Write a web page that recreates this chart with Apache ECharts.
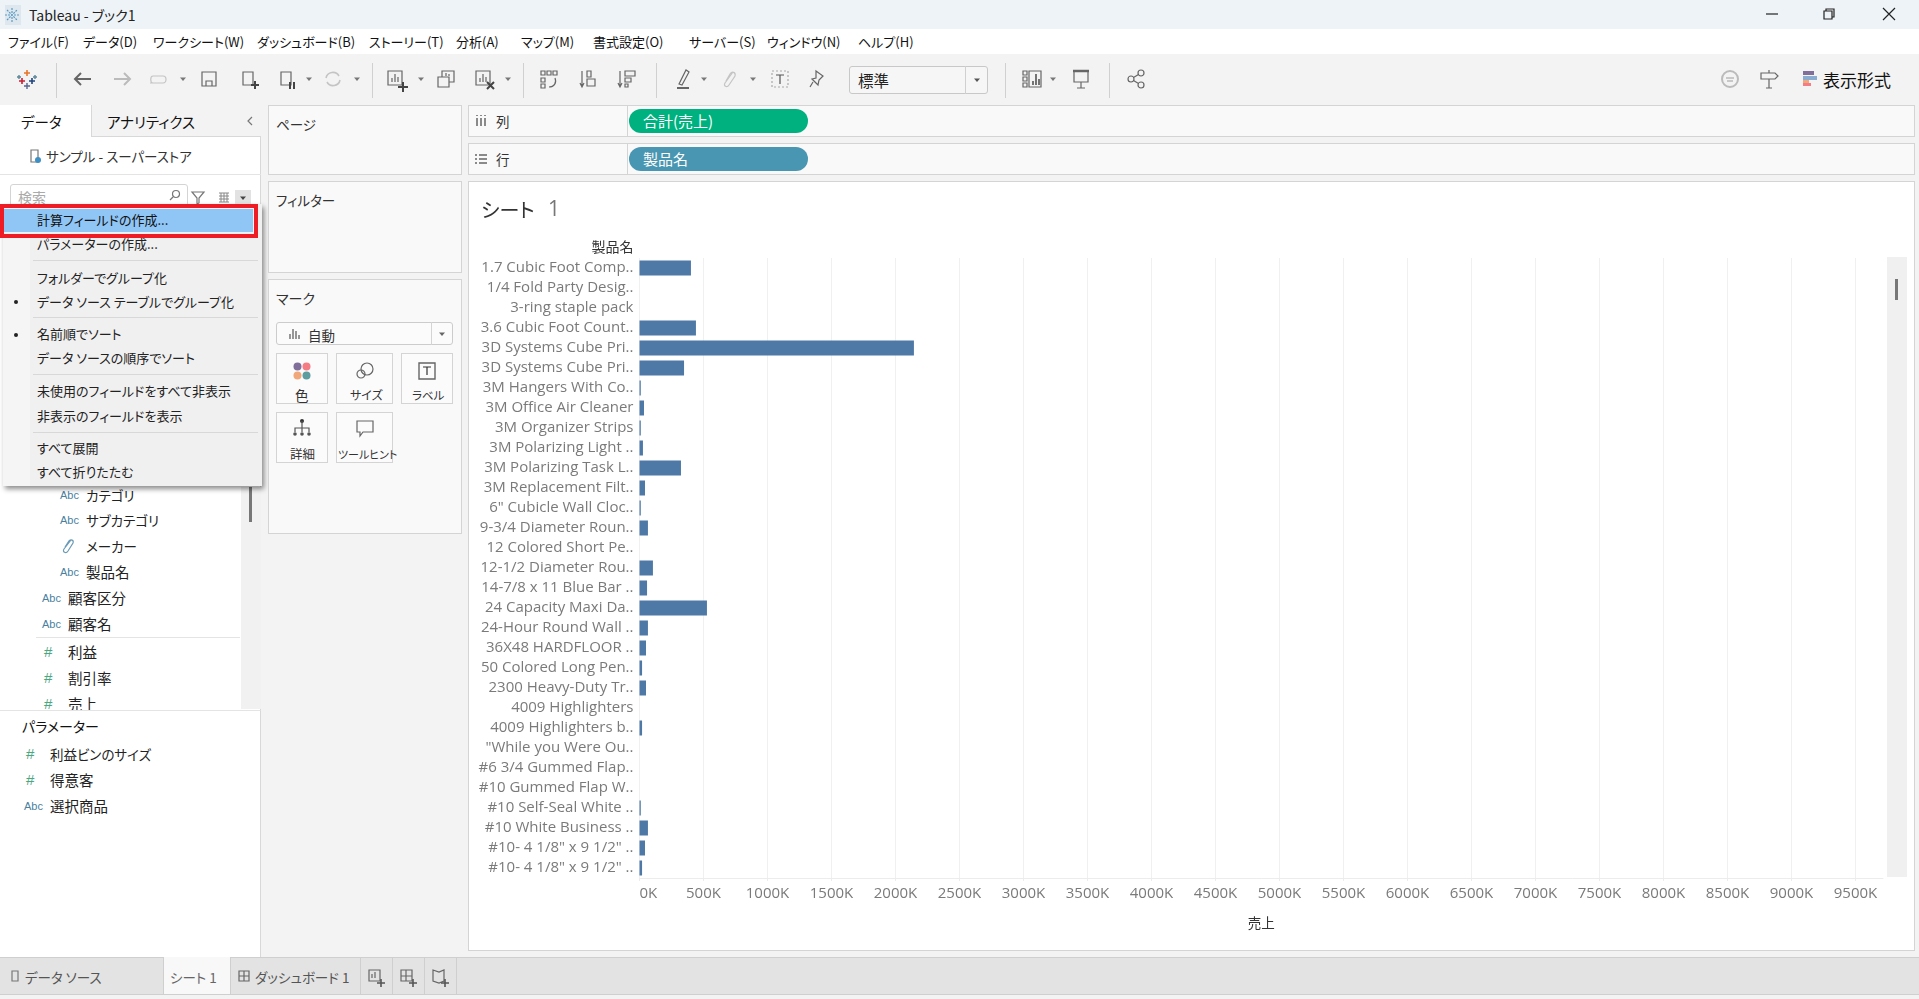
<!DOCTYPE html>
<html>
<head>
<meta charset="utf-8">
<title>Tableau - ブック1</title>
<script src="https://cdn.jsdelivr.net/npm/echarts@6/dist/echarts.min.js"></script>
<style>
html,body{margin:0;padding:0;width:1919px;height:999px;overflow:hidden;background:#f3f3f3;font-family:"Noto Sans CJK JP",sans-serif;font-feature-settings:"palt";}
.b{position:absolute;box-sizing:border-box;}
.t{position:absolute;white-space:nowrap;line-height:20px;height:20px;color:#222;}
svg{position:absolute;overflow:visible;}
#main{position:absolute;left:469px;top:182px;width:1444px;height:767px;}
</style>
</head>
<body>
<div id="ui"></div>
<div id="main"></div>
<div id="over"></div>
<script>
'use strict'

// 製品名 and 合計(売上)
var products = ["1.7 Cubic Foot Comp..","1/4 Fold Party Desig..","3-ring staple pack","3.6 Cubic Foot Count..","3D Systems Cube Pri..","3D Systems Cube Pri..","3M Hangers With Co..","3M Office Air Cleaner","3M Organizer Strips","3M Polarizing Light ..","3M Polarizing Task L..","3M Replacement Filt..","6\" Cubicle Wall Cloc..","9-3/4 Diameter Roun..","12 Colored Short Pe..","12-1/2 Diameter Rou..","14-7/8 x 11 Blue Bar ..","24 Capacity Maxi Da..","24-Hour Round Wall ..","36X48 HARDFLOOR ..","50 Colored Long Pen..","2300 Heavy-Duty Tr..","4009 Highlighters","4009 Highlighters b..","\"While you Were Ou..","#6 3/4 Gummed Flap..","#10 Gummed Flap W..","#10 Self-Seal White ..","#10 White Business ..","#10- 4 1/8\" x 9 1/2\" ..","#10- 4 1/8\" x 9 1/2\" .."];
var sales = [402000,0,0,441000,2144000,348000,10000,35000,10000,27000,324000,43000,10000,66000,0,105000,59000,527000,66000,51000,20000,51000,0,20000,0,0,0,10000,66000,43000,20000];
var salesTicks = [0,500000,1000000,1500000,2000000,2500000,3000000,3500000,4000000,4500000,5000000,5500000,6000000,6500000,7000000,7500000,8000000,8500000,9000000,9500000];

var menuBar = [["ファイル(F)",8],["データ(D)",83],["ワークシート(W)",153],["ダッシュボード(B)",257],["ストーリー(T)",369],["分析(A)",456],["マップ(M)",521],["書式設定(O)",593],["サーバー(S)",689],["ウィンドウ(N)",767],["ヘルプ(H)",858]];
var dropdownItems = [["パラメーターの作成...",244],["フォルダーでグループ化",278],["データ ソース テーブルでグループ化",302],["名前順でソート",334],["データ ソースの順序でソート",358],["未使用のフィールドをすべて非表示",391],["非表示のフィールドを表示",416],["すべて展開",448],["すべて折りたたむ",472]];
var dropdownSeps = [260,317,374,432];
var fieldItems = [["Abc","カテゴリ",60,86,495],["Abc","サブカテゴリ",60,86,520],["clip","メーカー",60,86,546],["Abc","製品名",60,86,572],["Abc","顧客区分",42,68,598],["Abc","顧客名",42,68,624],["#","利益",44,68,652],["#","割引率",44,68,678],["#","売上",44,68,704]];
var paramItems = [["#","利益ビンのサイズ",26,50,754],["#","得意客",26,50,780],["Abc","選択商品",24,50,806]];
var toolbarSeps = [56,372,523,656,1005,1109];
var toolbarCarets = [183,309,357,421,508,704,753,1053];

var ui = document.getElementById("ui");
var over = document.getElementById("over");

function box(x,y,w,h,css,parent){
    var d = document.createElement("div");
    d.className = "b";
    d.style.cssText = "left:"+x+"px;top:"+y+"px;width:"+w+"px;height:"+h+"px;"+(css||"");
    (parent||ui).appendChild(d);
    return d;
}
function text(x,y,s,size,color,parent,css){
    var d = document.createElement("div");
    d.className = "t";
    d.textContent = s;
    d.style.cssText = "left:"+x+"px;top:"+(y-10)+"px;font-size:"+size+"px;color:"+(color||"#222")+";"+(css||"");
    (parent||ui).appendChild(d);
    return d;
}
function icon(cx,cy,inner,parent){
    var wrap = document.createElement("div");
    wrap.innerHTML = "<svg width='24' height='24' viewBox='-12 -12 24 24' style='left:"+(cx-12)+"px;top:"+(cy-12)+"px' fill='none' stroke='#666' stroke-width='1.2'>"+inner+"</svg>";
    (parent||ui).appendChild(wrap.firstChild);
}
function caret(cx,cy,color,parent){
    icon(cx,cy,"<path d='M-3 -1.5H3L0 2Z' fill='"+(color||"#777")+"' stroke='none'/>",parent);
}
function fieldIcon(kind,x,y,parent){
    if(kind=="Abc"){
        text(x,y,"Abc",11,"#4a7f9f",parent,"font-family:'Liberation Sans'");
    }else if(kind=="#"){
        text(x,y,"#",15,"#4aa77f",parent,"font-family:'Liberation Sans'");
    }else{
        icon(x+8,y,"<path d='M3 -6L-4 3C-6 6 -2 8 0 5L5 -3C6 -6 3 -7 1 -5L-3 1' stroke='#6a9ab5'/>",parent);
    }
}
// katakana runs narrower than kanji in the reference font
function fieldSize(s){
    return /[ァ-ヶー]/.test(s) ? 13.5 : 14.5;
}

// window frame
box(0,0,1919,29,"background:#eef3f7");
box(5,5,16,20,"background:#dfe7ee");
icon(12,15,"<path d='M0 -7V7M-7 0H7M-5 -5L5 5M-5 5L5 -5' stroke='#5a9bc4' stroke-dasharray='2 1'/>");
text(29,15,"Tableau - ブック1",14,"#222");
box(0,29,1919,25,"background:#fff");
menuBar.forEach(function(m){ text(m[1],42,m[0],13,"#111"); });
icon(1772,14,"<path d='M-6 0H6' stroke='#222'/>");
icon(1829,14,"<path d='M-5 -3H3V5H-5ZM-3 -3V-5H5V3H3' stroke='#222'/>");
icon(1889,14,"<path d='M-6 -6L6 6M6 -6L-6 6' stroke='#222'/>");

// toolbar
box(0,54,1919,51,"background:#f3f3f3");
toolbarSeps.forEach(function(x){ box(x,63,1,35,"background:#d0d0d0"); });
toolbarCarets.forEach(function(x){ caret(x,79); });
icon(27,79,"<path d='M0 -9V-3M-3 -6H3' stroke='#e8762c' stroke-width='1.6'/><path d='M-8 -4V0M-10 -2H-6M8 -4V0M6 -2H10' stroke='#5b879b' stroke-width='1.4'/><path d='M-5 -1V5M-8 2H-2' stroke='#c72035' stroke-width='1.6'/><path d='M5 -1V5M2 2H8' stroke='#1f457e' stroke-width='1.6'/><path d='M0 4V10M-3 7H3' stroke='#5b6591' stroke-width='1.4'/>");
icon(83,79,"<path d='M8 0H-7M-2 -6L-8 0L-2 6' stroke-width='2'/>");
icon(122,79,"<path d='M-8 0H7M2 -6L8 0L2 6' stroke='#bbb' stroke-width='2'/>");
icon(159,79,"<path d='M-9 4H4C8 4 8 -3 4 -3H-6C-9 -3 -9 4 -6 4' stroke='#c4c4c4'/>");
icon(209,79,"<path d='M-7 -7H7V7H-7ZM-3 7V2H3V7'/>");
icon(248,79,"<path d='M-5 -7H5V6H-5Z'/><path d='M3 6H11M7 2V10' stroke='#444' stroke-width='2'/>");
icon(286,79,"<path d='M-5 -7H5V6H-5Z'/><path d='M4 3V10M8 3V10' stroke='#444' stroke-width='2'/>");
icon(333,79,"<path d='M-7 -1A7 7 0 0 1 6 -3M7 1A7 7 0 0 1 -6 3' stroke='#c4c4c4' stroke-width='1.6'/>");
icon(396,79,"<path d='M-8 -8H6V6H-8ZM-4 3V-1M-1 3V-5M2 3V-2'/><path d='M2 8H12M7 3V13' stroke='#444' stroke-width='2'/>");
icon(446,79,"<path d='M-8 -2H3V8H-8ZM-4 -2V-8H8V3H3M0 -3V-6M3 -3V-5'/>");
icon(484,79,"<path d='M-8 -8H6V6H-8ZM-4 3V-1M-1 3V-5M2 3V-2'/><path d='M3 3L10 10M10 3L3 10' stroke='#444' stroke-width='2'/>");
icon(549,79,"<path d='M-8 -8H-4V-4H-8ZM-2 -8H2V-4H-2ZM4 -8H8V-4H4ZM-8 -1H-4V3H-8ZM-8 5H-4V9H-8ZM6 -1C8 4 5 8 0 8'/>");
icon(589,79,"<path d='M-7 -8V7M-9 4L-7 8L-5 4M-2 -8H2V-2H-2ZM-2 0H6V7H-2Z'/>");
icon(627,79,"<path d='M-7 -8V7M-9 4L-7 8L-5 4M-2 -8H8V-3H-2ZM-2 -1H4V3H-2ZM-2 5H1V8H-2Z'/>");
icon(683,79,"<path d='M-4 5L3 -9L6 -7L-1 6Z'/><path d='M-6 9H6' stroke-width='2'/>");
icon(729,79,"<path d='M4 -7L-4 4C-6 7 -2 9 0 6L6 -3C7 -7 3 -8 1 -5L-3 2' stroke='#c4c4c4'/>");
icon(780,79,"<path d='M-8 -8H8V8H-8Z' stroke='#aaa' stroke-dasharray='2 2'/><path d='M-4 -4H4M0 -4V5' stroke='#555'/>");
icon(817,79,"<path d='M-1 -8L6 -3L2 1L1 6L-5 0L-1 -1ZM-4 3L-7 8'/>");
box(849,66,139,28,"background:#f6f6f6;border:1px solid #c8c8c8;border-radius:3px");
box(965,66,1,28,"background:#d0d0d0");
text(858,80,"標準",15.5,"#222");
caret(977,80,"#555");
icon(1032,79,"<path d='M-9 -8H-5V-4H-9ZM-9 -2H-5V2H-9ZM-9 4H-5V8H-9ZM-3 -8H9V8H-3Z'/><path d='M1 6V2M4 6V-5M7 6V0' stroke-width='1.8'/>");
icon(1081,79,"<path d='M-8 -8H8' stroke-width='2.5'/><path d='M-7 -8V3H7V-8M0 3V9M-4 9H4'/>");
icon(1136,79,"<circle cx='5' cy='-6' r='3'/><circle cx='-5' cy='0' r='3'/><circle cx='5' cy='6' r='3'/><path d='M2.5 -4.5L-2.5 -1.5M-2.5 1.5L2.5 4.5'/>");
icon(1730,79,"<circle r='8' stroke='#bbb' stroke-width='2'/><path d='M-4 -1H4M-3 2H3' stroke='#bbb' stroke-width='1.6'/>");
icon(1769,79,"<path d='M-8 -6H6L9 -3L6 0H-8ZM0 0V9M-3 9H3M0 -6V-9'/>");
box(1803,71,11,4,"background:#7f6f9a");
box(1803,76,14,4,"background:#8aacd0");
box(1803,80,6,3,"background:#f0a87a");
box(1803,83,8,3,"background:#f47c85");
text(1823,80,"表示形式",17,"#111");

// data pane
box(0,105,261,852,"background:#fff;border-right:1px solid #d8d8d8");
box(91,105,170,32,"background:#f3f3f3;border-left:1px solid #d8d8d8;border-bottom:1px solid #d8d8d8");
text(21,122,"データ",14.5,"#111");
text(107,122,"アナリティクス",14.5,"#111");
icon(250,121,"<path d='M2 -4L-2 0L2 4' stroke='#777'/>");
icon(35,156,"<path d='M-4 -6H3V6H-4Z' stroke='#777'/><circle cx='3' cy='4' r='3' fill='#3d8fc4' stroke='none'/>");
text(46,156,"サンプル - スーパーストア",13.5,"#333");
box(0,174,261,1,"background:#e4e4e4");
box(10,184,178,28,"background:#fff;border:1px solid #d4d4d4;border-radius:3px");
text(18,197,"検索",14,"#aaa");
icon(175,196,"<circle cx='1' cy='-2' r='3.5' stroke='#777'/><path d='M-2 1L-5 4' stroke='#777'/>");
icon(198,197,"<path d='M-6 -5H6L1 1V6L-1 7V1Z' stroke='#777'/>");
icon(224,197,"<path d='M-5 -4H5M-5 -1H5M-5 2H5M-5 5H5M-3 -4V5M0 -4V5M3 -4V5' stroke='#888' stroke-width='1'/>");
box(235,190,16,18,"background:#e2e2e2");
caret(243,198,"#444");

// field list, the 売上 row runs under the parameter block
box(241,487,20,222,"background:#f1f1f1");
box(249,487,3,35,"background:#777");
fieldItems.forEach(function(f){
    fieldIcon(f[0],f[2],f[4]);
    text(f[3],f[4],f[1],fieldSize(f[1]),"#222");
});
box(36,637,204,1,"background:#e4e4e4");
box(0,710,261,247,"background:#fff;border-top:1px solid #e4e4e4;border-right:1px solid #d8d8d8");
text(22,726,"パラメーター",14,"#111");
paramItems.forEach(function(f){
    fieldIcon(f[0],f[2],f[4]);
    text(f[3],f[4],f[1],fieldSize(f[1]),"#222");
});

// dropdown menu
box(3,204,259,282,"background:#f0f0f0;box-shadow:2px 3px 5px rgba(0,0,0,.45)");
box(3,238,27,248,"background:#f5f5f5");
dropdownSeps.forEach(function(y){ box(33,y,225,1,"background:#d8d8d8"); });
dropdownItems.forEach(function(m){ text(37,m[1],m[0],13,"#222"); });
box(14,300,4,4,"background:#222;border-radius:50%");
box(14,333,4,4,"background:#222;border-radius:50%");
box(4,209,249,23,"background:#90c6f5");
text(37,220,"計算フィールドの作成...",13,"#111");
box(0,204,258,34,"border:4px solid #ee1c25");

// cards
box(268,105,194,70,"background:#f9f9f9;border:1px solid #d4d4d4");
text(276,124,"ページ",13.5,"#333");
box(268,181,194,92,"background:#f9f9f9;border:1px solid #d4d4d4");
text(276,200,"フィルター",13.5,"#333");
box(268,279,194,255,"background:#f9f9f9;border:1px solid #d4d4d4");
text(276,298,"マーク",14,"#333");
box(276,322,177,23,"background:#fbfbfb;border:1px solid #ccc;border-radius:3px");
box(431,322,1,23,"background:#d4d4d4");
icon(294,334,"<path d='M-4 5V0M-1 5V-5M2 5V-3M5 5V1' stroke='#555'/>");
text(308,335,"自動",13.5,"#333");
caret(442,334,"#666");
box(276,353,52,51,"background:#fbfbfb;border:1px solid #d4d4d4");
box(336,353,57,51,"background:#fbfbfb;border:1px solid #d4d4d4");
box(401,353,52,51,"background:#fbfbfb;border:1px solid #d4d4d4");
box(276,412,52,51,"background:#fbfbfb;border:1px solid #d4d4d4");
box(336,412,57,51,"background:#fbfbfb;border:1px solid #d4d4d4");
icon(302,371,"<circle cx='-4.5' cy='-4.5' r='4' fill='#7f6f9a' stroke='none'/><circle cx='4.5' cy='-4.5' r='4' fill='#f47c85' stroke='none'/><circle cx='-4.5' cy='4.5' r='4' fill='#f0a87a' stroke='none'/><circle cx='4.5' cy='4.5' r='4' fill='#5d9c9f' stroke='none'/>");
icon(365,371,"<circle cx='2' cy='-2' r='6'/><circle cx='-4' cy='3' r='4'/>");
icon(427,371,"<path d='M-8 -8H8V8H-8Z' stroke-width='1.4'/><path d='M-4 -4H4M0 -4V4' stroke='#333'/>");
icon(302,428,"<circle cy='-7' r='2' fill='#333' stroke='none'/><path d='M0 -7V4M-7 4V0H7V4' stroke='#555'/><circle cx='-7' cy='6' r='1.8' fill='#555' stroke='none'/><circle cy='6' r='1.8' fill='#555' stroke='none'/><circle cx='7' cy='6' r='1.8' fill='#555' stroke='none'/>");
icon(365,428,"<path d='M-8 -7H8V4H-2L-5 8V4H-8Z'/>");
text(295,395,"色",13.5,"#333");
text(350,395,"サイズ",12,"#333");
text(412,395,"ラベル",11.5,"#333");
text(290,454,"詳細",12.5,"#333");
text(338,454,"ツールヒント",11,"#333");

// shelves
box(468,105,1447,32,"background:#f9f9f9;border:1px solid #d4d4d4");
box(468,143,1447,32,"background:#f9f9f9;border:1px solid #d4d4d4");
box(627,105,1,32,"background:#d4d4d4");
box(627,143,1,32,"background:#d4d4d4");
icon(481,121,"<path d='M-4 -3V5M0 -3V5M4 -3V5M-4 -6V-5M0 -6V-5M4 -6V-5' stroke='#666' stroke-width='1.5'/>");
text(496,121,"列",13.5,"#333");
icon(481,159,"<path d='M-2 -4H6M-2 0H6M-2 4H6M-6 -4H-4M-6 0H-4M-6 4H-4' stroke='#666' stroke-width='1.5'/>");
text(496,159,"行",13.5,"#333");
box(629,109,179,24,"background:#00b180;border-radius:12px");
box(629,147,179,24,"background:#4996b2;border-radius:12px");
text(643,121,"合計(売上)",15,"#fff");
text(643,159,"製品名",15,"#fff");

// view frame and the tab strip
box(468,181,1447,770,"background:#fff;border:1px solid #d4d4d4");
box(0,957,1919,38,"background:#e3e3e3;border-top:1px solid #cfcfcf;border-bottom:1px solid #cfcfcf");
box(0,995,1919,4,"background:#f3f3f3");
icon(15,976,"<path d='M-3 -5H3V5H-3Z' stroke='#777'/>");
text(25,977,"データ ソース",13.5,"#555");
box(163,957,68,37,"background:#f8f8f8;border-left:1px solid #cfcfcf;border-right:1px solid #cfcfcf");
text(170,977,"シート 1",13.5,"#666");
icon(244,976,"<path d='M-5 -5H5V5H-5ZM0 -5V5M-5 0H5' stroke='#666'/>");
text(255,977,"ダッシュボード 1",13.5,"#555");
[360,392,424,456].forEach(function(x){ box(x,957,1,37,"background:#cfcfcf"); });
icon(376,976,"<path d='M-7 -6H4V5H-7ZM-4 2V-2M-1 2V-4'/><path d='M1 7H9M5 3V11' stroke='#555' stroke-width='1.6'/>");
icon(408,976,"<path d='M-7 -6H4V5H-7ZM-2 -6V5M-7 0H4'/><path d='M1 7H9M5 3V11' stroke='#555' stroke-width='1.6'/>");
icon(440,976,"<path d='M-7 -6L-1 -4L4 -6V5L-1 7L-7 5Z'/><path d='M1 7H9M5 3V11' stroke='#555' stroke-width='1.6'/>");

// view scrollbar sits above the plot
box(1887,257,20,620,"background:#f0f0f0",over);
box(1895,279,3,21,"background:#777",over);

var myChart = echarts.init(document.getElementById("main"));
var fontLatin = "'Open Sans','Noto Sans CJK JP',sans-serif";
var option = {
    animation: false,
    title: {
        left: 7,
        top: 13,
        text: "{a|シート}{b|1}",
        textStyle: {
            fontWeight: "normal",
            rich: {
                a: { fontSize: 20, color: "#333", fontWeight: "normal", fontFamily: "Noto Sans CJK JP" },
                b: { fontSize: 21, color: "#777", fontWeight: "normal", fontFamily: fontLatin, padding: [0,0,0,7] }
            }
        }
    },
    grid: { left: 170.5, top: 76, width: 1243.5, height: 620, containLabel: false },
    xAxis: {
        type: "value",
        min: 0,
        max: 9715000,
        name: "売上",
        nameLocation: "middle",
        nameGap: 38,
        nameTextStyle: { color: "#333", fontSize: 13.5, fontFamily: "Noto Sans CJK JP" },
        axisLine: { show: true, lineStyle: { color: "#ececec", width: 1 } },
        axisTick: { show: true, length: 3, customValues: salesTicks, lineStyle: { color: "#ececec" } },
        splitLine: { show: true, lineStyle: { color: "#f0f0f0", width: 1 } },
        axisLabel: {
            customValues: salesTicks,
            alignMinLabel: "left",
            margin: 8,
            color: "#7a7a7a",
            fontSize: 15,
            fontFamily: fontLatin,
            formatter: function (v) { return (v/1000)+"K"; }
        }
    },
    yAxis: {
        type: "category",
        inverse: true,
        data: products,
        name: "製品名",
        nameLocation: "start",
        nameGap: 4,
        nameTextStyle: { color: "#333", fontSize: 14, align: "right", padding: [0,6,0,0], fontFamily: "Noto Sans CJK JP" },
        axisLine: { show: false },
        axisTick: { show: false },
        axisLabel: {
            interval: 0,
            margin: 6,
            color: "#7a7a7a",
            fontSize: 15,
            fontFamily: fontLatin
        }
    },
    series: [{
        name: "売上",
        type: "bar",
        data: sales,
        barWidth: 15,
        itemStyle: { color: "#4e79a7" }
    }]
};
myChart.setOption(option);
</script>
</body>
</html>
